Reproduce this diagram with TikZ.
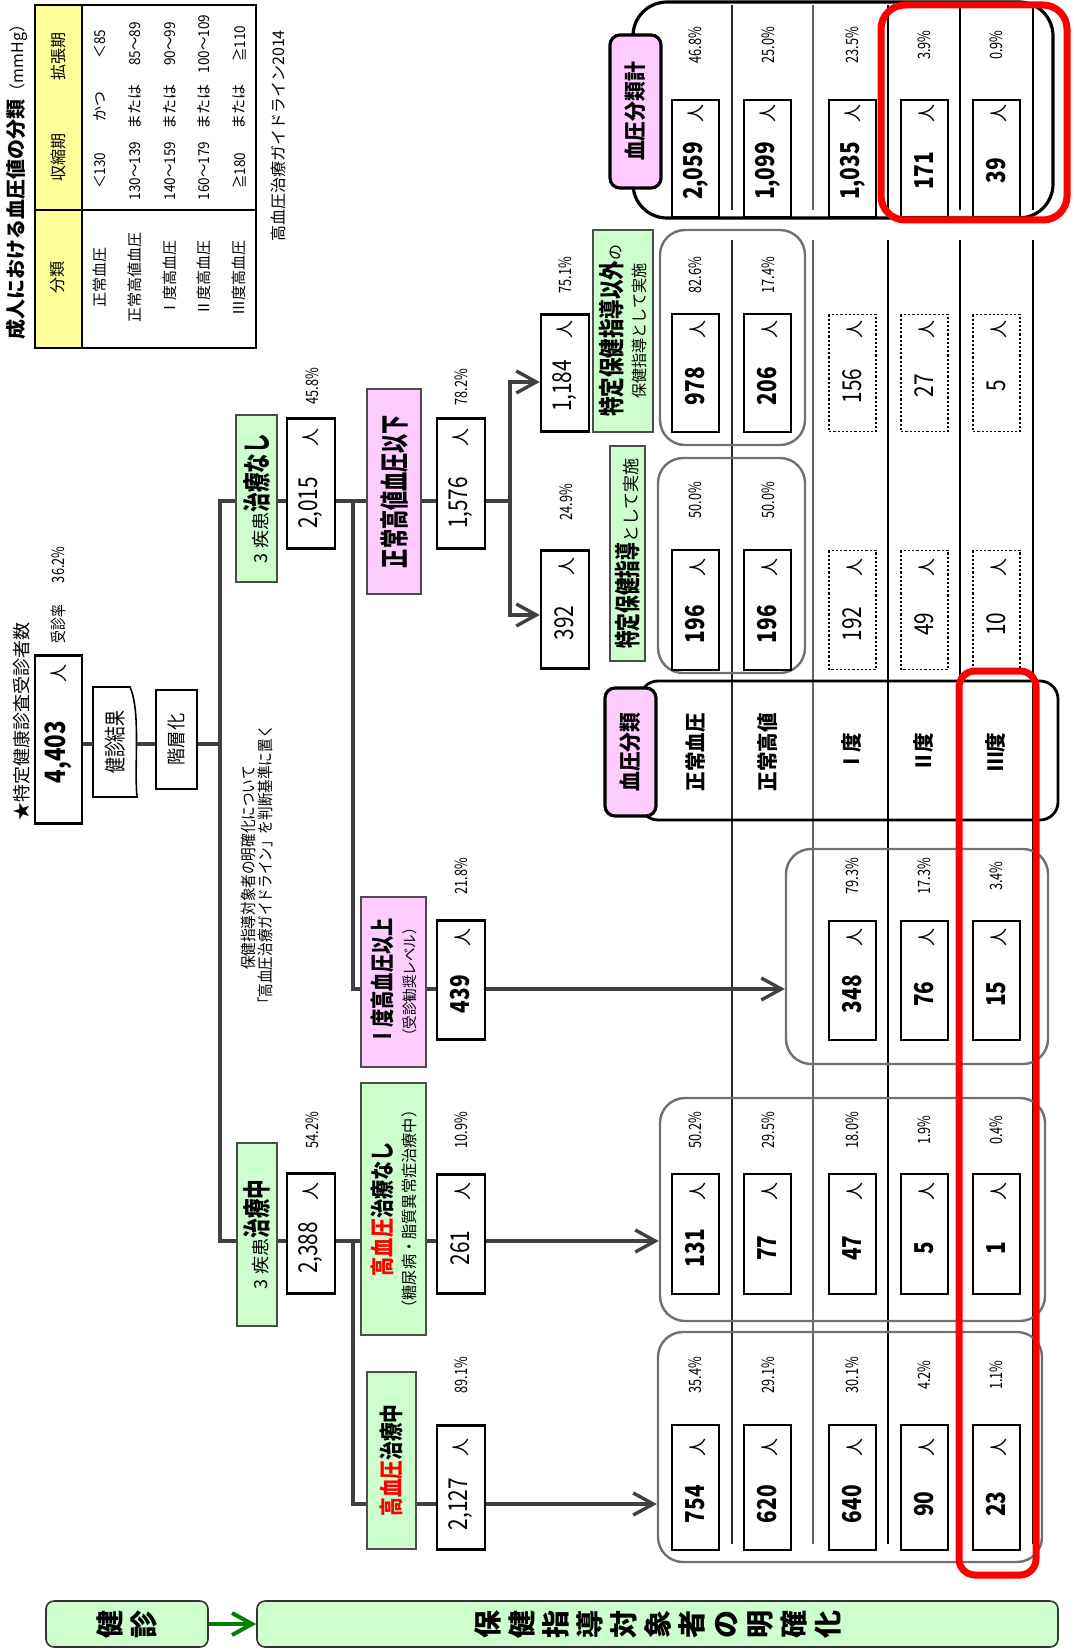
\documentclass[tikz,border=0pt]{standalone}
\usepackage{fontspec}
\usepackage{graphicx}
\setmainfont{Noto Sans CJK JP}
\usetikzlibrary{arrows.meta}
\definecolor{grn}{HTML}{CCFFCC}
\definecolor{pnk}{HTML}{FFCCFF}
\definecolor{ylw}{HTML}{FFFF99}
\definecolor{cdk}{HTML}{404040}
\definecolor{gry}{HTML}{707070}
\newcommand\Fs[1]{\fontsize{#1}{#1}\selectfont}
\newcommand\Cx[2]{\scalebox{#1}[1]{#2}}
\newcommand\Vc[1]{\rotatebox{90}{\rule[-0.12em]{0pt}{1em}#1}}
\newcommand\nbA{39}
\newcommand\nbB{18}
% number box: [opts]{name}{x1}{y1}{x2}{y2}{number}
\newcommand\NB[7][]{%
  \pgfmathsetmacro\nbL{(#6-#4)*0.5}%
  \node[rotate=90,numbox,#1,minimum width=\nbL pt,minimum height={(#5-#3)*0.5pt}] (#2) at ({(#3+#5)/2},{(#4+#6)/2})
    {\makebox[\nbL pt][l]{\makebox[\nbA pt][c]{\Fs{13}\Cx{0.8}{#7}}\hfill\makebox[\nbB pt][c]{\Fs{9}人}}};}
% rotated box: [opts]{name}{x1}{y1}{x2}{y2}{text}
\newcommand\BX[7][]{%
  \node[rotate=90,inner sep=0pt,#1,minimum width={(#6-#4)*0.5pt},minimum height={(#5-#3)*0.5pt}] (#2) at ({(#3+#5)/2},{(#4+#6)/2}) {#7};}
% unrotated frame: [opts]{name}{x1}{y1}{x2}{y2}
\newcommand\GX[6][]{%
  \node[inner sep=0pt,#1,minimum width={(#5-#3)*0.5pt},minimum height={(#6-#4)*0.5pt}] (#2) at ({(#3+#5)/2},{(#4+#6)/2}) {};}
% rotated text: [opts]{name}{x}{y}{text}
\newcommand\TX[5][]{\node[rotate=90,inner sep=0pt,#1] (#2) at (#3,#4) {#5};}
\begin{document}
\begin{tikzpicture}[x=0.5pt,y=-0.5pt,
 conn/.style={draw=cdk, line width=1.7pt},
 arr/.style={-{Straight Barb[length=10pt,width=11pt]}},
 numbox/.style={draw=black, line width=1.1pt, fill=white},
 dotbox/.style={densely dotted, line width=0.7pt},
 wbox/.style={draw=black, line width=0.8pt, fill=white},
 gbox/.style={draw=black!70, line width=0.8pt, fill=grn, align=center},
 pbox/.style={draw=black!70, line width=0.8pt, fill=pnk, align=center},
 pkbox/.style={draw=black, line width=1.6pt, fill=pnk, rounded corners=5pt},
 grp/.style={draw=gry, line width=1.2pt, rounded corners=12.5pt},
 frameA/.style={draw=black, line width=1.6pt, rounded corners=17pt},
 frameB/.style={draw=black, line width=1.4pt, rounded corners=9pt},
 pct/.style={font=\Fs{8.5}},
 tb/.style={font=\Fs{7.5}},
 rl/.style={font=\bfseries\Fs{10.5}},
 banner/.style={draw=black!80, line width=0.8pt, fill=grn, rounded corners=4pt, inner sep=0pt, font=\bfseries\Fs{14}},
 redf/.style={draw=red, line width=3.5pt},
 garr/.style={draw=green!50!black, line width=2pt, -{Straight Barb[length=10pt,width=11pt]}}]
\fill[white] (0,0) rectangle (1073,1652);
\useasboundingbox (0,0) rectangle (1073,1652);

% ---------- grid lines ----------
\foreach \x/\c/\w in {732/black!85/0.9pt, 813/black!60/1.4pt, 888/black/0.9pt, 960/black/0.9pt, 1033/black/0.9pt}
  {\draw[draw=\c, line width=\w] (\x,5) -- (\x,210) (\x,240) -- (\x,1544);}

% ---------- frames and groups ----------
\GX[frameA]{F1}{633}{2}{1053}{218}
\GX[frameB]{F2}{640}{681}{1058}{820}
\GX[grp]{G1}{660}{230}{805}{445}
\GX[grp]{G2}{658}{458}{805}{673}
\GX[grp]{GI}{786}{849}{1048}{1064}
\GX[grp]{G3}{660}{1098}{1045}{1321}
\GX[grp]{G4}{658}{1332}{1042}{1562}

% ---------- title and table ----------
\TX{title}{17}{178}{{\bfseries\Fs{10}成人における血圧値の分類}{\Fs{8}（mmHg）}}
\fill[ylw] (35,5) rectangle (82,348);
\draw[line width=1.3pt] (35,5) rectangle (256,348);
\draw[line width=1.3pt] (82,5) -- (82,348) (35,210) -- (256,210);
\TX[font=\Fs{8}]{h1}{58}{278}{分類}
\TX[font=\Fs{8}]{h2}{58}{158}{収縮期}
\TX[font=\Fs{8}]{h3}{58}{57}{拡張期}
\foreach \x/\a/\b/\c/\d [count=\i] in {100/正常血圧/＜130/かつ/＜85, 135/正常高値血圧/130～139/または/85～89, 170/Ⅰ度高血圧/140～159/または/90～99, 204/Ⅱ度高血圧/160～179/または/100～109, 239/Ⅲ度高血圧/≧180/または/≧110}{
  \node[rotate=90,tb,inner sep=0pt] (ta\i) at (\x,278) {\a};
  \node[rotate=90,tb,inner sep=0pt] (tb\i) at (\x,171) {\Cx{0.9}{\b}};
  \node[rotate=90,tb,inner sep=0pt] (tc\i) at (\x,107) {\c};
  \node[rotate=90,tb,inner sep=0pt] (td\i) at (\x,44) {\Cx{0.9}{\d}};
}
\TX[font=\Fs{8}]{src}{278}{136}{高血圧治療ガイドライン2014}

% ---------- left texts ----------
\TX[font=\Fs{9}]{star}{22}{721}{★特定健康診査受診者数}
\TX[font=\Fs{8}]{rate}{58}{595}{\Cx{0.8}{受診率}\hspace{11pt}\Fs{8.5}\Cx{0.75}{36.2\%}}
\TX[font=\fontsize{8}{8.5}\selectfont, align=center]{note}{256.5}{868}{\Cx{0.85}{保健指導対象者の明確化について}\\\Cx{0.85}{「高血圧治療ガイドライン」を判断基準に置く}}

% ---------- left boxes ----------
\renewcommand\nbA{65}\renewcommand\nbB{14}
\NB[line width=1.3pt]{n4403}{35}{662}{82}{817}{\Fs{14}\bfseries 4,403}
\renewcommand\nbA{39}\renewcommand\nbB{18}
\draw[line width=0.8pt, fill=white] (93,687) -- (130,687) .. controls (141,712) and (134,765) .. (137,797) -- (93,797) -- cycle;
\BX{kk}{93}{687}{137}{797}{\Fs{11}\Cx{0.72}{健診結果}}
\BX[wbox]{kaiso}{156}{690}{197}{789}{\Fs{9.5}\Cx{0.9}{階層化}}

\BX[gbox]{g1}{236}{415}{277}{582}{{\Fs{9}3\hspace{2.5pt}疾患}{\bfseries\Fs{14}\Cx{0.7}{治療なし}}}
\BX[gbox]{g2}{237}{1143}{277}{1326}{{\Fs{9}3\hspace{2.5pt}疾患}{\bfseries\Fs{14}\Cx{0.7}{治療中}}}
\renewcommand\nbB{27}
\NB[line width=1.2pt]{n2015}{287}{425}{335}{542}{2,015}
\NB[line width=1.2pt]{n1576}{437}{425}{485}{542}{1,576}
\renewcommand\nbB{18}
\NB[line width=1.2pt]{n2388}{287}{1180}{335}{1287}{2,388}
\BX[pbox]{p1}{367}{389}{421}{594}{\bfseries\Fs{14.5}\Cx{0.66}{正常高値血圧以下}}
\BX[pbox,font=\fontsize{8}{12}\selectfont]{p2}{361}{897}{426}{1067}{{\bfseries\Fs{12}\Cx{0.76}{Ⅰ度高血圧以上}}\\{\Fs{7.5}\Cx{0.9}{（受診勧奨レベル）}}}
\BX[gbox,font=\fontsize{8}{12}\selectfont]{g3}{361}{1083}{426}{1335}{{\bfseries\Fs{12}\Cx{0.8}{\textcolor{red}{高血圧}治療なし}}\\{\Fs{8}\Cx{0.95}{（糖尿病・脂質異常症治療中）}}}
\BX[gbox]{g4}{367}{1372}{416}{1549}{\bfseries\Fs{12}\Cx{0.78}{\textcolor{red}{高血圧}治療中}}
\NB[line width=1.2pt]{n439}{437}{927}{485}{1033}{\bfseries 439}
\NB[line width=1.2pt]{n261}{437}{1181}{485}{1287}{261}
\NB[line width=1.2pt]{n2127}{437}{1432}{485}{1543}{2,127}
\NB[line width=1.2pt]{n1184}{541}{321}{589}{425}{1,184}
\NB[line width=1.2pt]{n392}{541}{557}{589}{662}{392}
\BX[gbox,font=\fontsize{8}{12}\selectfont]{s1}{593}{230}{653}{432}{{\bfseries\Fs{13}\Cx{0.75}{特定保健指導以外}}{\Fs{8}の}\\{\Fs{8}\Cx{0.94}{保健指導として実施}}}
\BX[gbox]{s2}{610}{446}{645}{661}{{\bfseries\Fs{13}\Cx{0.68}{特定保健指導}}{\Fs{8.5}として実施}}

% ---------- right number boxes ----------
\NB{t1}{672}{107}{719}{210}{\bfseries 2,059}
\NB{t2}{744}{107}{791}{210}{\bfseries 1,099}
\NB{t3}{829}{107}{876}{210}{\bfseries 1,035}
\NB{t4}{901}{107}{948}{210}{\bfseries 171}
\NB{t5}{973}{107}{1020}{210}{\bfseries 39}
\NB{m11}{672}{321}{719}{425}{\bfseries 978}
\NB{m12}{744}{321}{791}{425}{\bfseries 206}
\NB[dotbox]{m13}{829}{321}{876}{425}{156}
\NB[dotbox]{m14}{901}{321}{948}{425}{27}
\NB[dotbox]{m15}{973}{321}{1020}{425}{5}
\NB{m21}{672}{557}{719}{663}{\bfseries 196}
\NB{m22}{744}{557}{791}{663}{\bfseries 196}
\NB[dotbox]{m23}{829}{557}{876}{663}{192}
\NB[dotbox]{m24}{901}{557}{948}{663}{49}
\NB[dotbox]{m25}{973}{557}{1020}{663}{10}
\NB{i3}{829}{928}{876}{1033}{\bfseries 348}
\NB{i4}{901}{928}{948}{1033}{\bfseries 76}
\NB{i5}{973}{928}{1020}{1033}{\bfseries 15}
\NB{a1}{672}{1181}{719}{1287}{\bfseries 131}
\NB{a2}{744}{1181}{791}{1287}{\bfseries 77}
\NB{a3}{829}{1181}{876}{1287}{\bfseries 47}
\NB{a4}{901}{1181}{948}{1287}{\bfseries 5}
\NB{a5}{973}{1181}{1020}{1287}{\bfseries 1}
\NB{b1}{672}{1432}{719}{1543}{\bfseries 754}
\NB{b2}{744}{1432}{791}{1543}{\bfseries 620}
\NB{b3}{829}{1432}{876}{1543}{\bfseries 640}
\NB{b4}{901}{1432}{948}{1543}{\bfseries 90}
\NB{b5}{973}{1432}{1020}{1543}{\bfseries 23}

% ---------- percentages ----------
\foreach \x/\y/\t [count=\i] in {695/45/46.8, 768/45/25.0, 852/45/23.5, 924/45/3.9, 996/45/0.9,
  695/275/82.6, 768/275/17.4, 695/500/50.0, 768/500/50.0,
  312/386/45.8, 461/387/78.2, 565/275/75.1, 566/502/24.9, 461/876/21.8, 312/1130/54.2, 461/1130/10.9, 461/1375/89.1,
  852/876/79.3, 924/876/17.3, 996/876/3.4,
  695/1130/50.2, 768/1130/29.5, 852/1130/18.0, 924/1130/1.9, 996/1130/0.4,
  695/1375/35.4, 768/1375/29.1, 852/1375/30.1, 924/1375/4.2, 996/1375/1.1}
  {\node[rotate=90,pct,inner sep=0pt] (pc\i) at (\x,\y) {\Cx{0.75}{\t\%}};}

% ---------- row labels ----------
\TX[rl]{rl1}{696}{752}{\Cx{0.93}{正常血圧}}
\TX[rl]{rl2}{767}{752}{\Cx{0.93}{正常高値}}
\TX[rl]{rl3}{852}{752}{\Cx{0.93}{Ⅰ度}}
\TX[rl]{rl4}{924}{752}{\Cx{0.93}{Ⅱ度}}
\TX[rl]{rl5}{996}{752}{\Cx{0.93}{Ⅲ度}}
\BX[pkbox]{lbl1}{610}{35}{661}{188}{\bfseries\Fs{11}\Cx{0.9}{血圧分類計}}
\BX[pkbox]{lbl2}{605}{688}{656}{816}{\bfseries\Fs{11}\Cx{0.9}{血圧分類}}

% ---------- connectors ----------
\coordinate (Y744) at (0,744);
\coordinate (J0) at (220,744);
\coordinate (T1) at (220,501);
\coordinate (T2) at (220,1241);
\coordinate (V1a) at (353,501);
\coordinate (V1b) at (353,989);
\coordinate (V2a) at (353,1241);
\coordinate (V2b) at (353,1504);
\coordinate (W0) at (510,501);
\coordinate (W1) at (510,382);
\coordinate (W2) at (510,615);
\draw[conn] (n4403.south|-Y744) -- (kk.north|-Y744);
\draw[conn] (kk.south|-Y744) -- (kaiso.north|-Y744);
\draw[conn] (kaiso.south|-Y744) -- (J0);
\draw[conn] (g1.north|-T1) -- (T1) -- (T2) -- (g2.north|-T2);
\draw[conn] (g1.south|-T1) -- (n2015.north|-T1);
\draw[conn] (n2015.south|-T1) -- (V1a) -- (V1b) -- (p2.north|-V1b);
\draw[conn] (V1a) -- (p1.north|-V1a);
\draw[conn] (p1.south|-V1a) -- (n1576.north|-V1a);
\draw[conn,arr] (n1576.south|-V1a) -- (W0) -- (W1) -- (n1184.north|-W1);
\draw[conn,arr] (W0) -- (W2) -- (n392.north|-W2);
\draw[conn] (p2.south|-V1b) -- (n439.north|-V1b);
\draw[conn,arr] (n439.south|-V1b) -- (GI.west|-V1b);
\draw[conn] (g2.south|-T2) -- (n2388.north|-T2);
\draw[conn] (n2388.south|-T2) -- (V2a) -- (V2b) -- (g4.north|-V2b);
\draw[conn] (V2a) -- (g3.north|-V2a);
\draw[conn] (g3.south|-V2a) -- (n261.north|-V2a);
\draw[conn,arr] (n261.south|-V2a) -- (G3.west|-V2a);
\draw[conn] (g4.south|-V2b) -- (n2127.north|-V2b);
\draw[conn,arr] (n2127.south|-V2b) -- (G4.west|-V2b);

% ---------- bottom banner ----------
\node[banner, minimum width=81pt, minimum height=23pt] (kenshin) at (127,1624) {\Vc{健}\hspace{3pt}\Vc{診}};
\node[banner, minimum width=400.5pt, minimum height=23pt] (hoken) at (657.5,1624)
  {\Vc{保}\hspace{3pt}\Vc{健}\hspace{3pt}\Vc{指}\hspace{3pt}\Vc{導}\hspace{3pt}\Vc{対}\hspace{3pt}\Vc{象}\hspace{3pt}\Vc{者}\hspace{3pt}\Vc{の}\hspace{3pt}\Vc{明}\hspace{3pt}\Vc{確}\hspace{3pt}\Vc{化}};
\draw[garr] (kenshin.east) -- (hoken.west);

% ---------- red highlights ----------
\draw[redf, rounded corners=12pt] (881,5) rectangle (1067,220);
\draw[redf, rounded corners=8pt] (959,671) rectangle (1036,1575);
\end{tikzpicture}
\end{document}
